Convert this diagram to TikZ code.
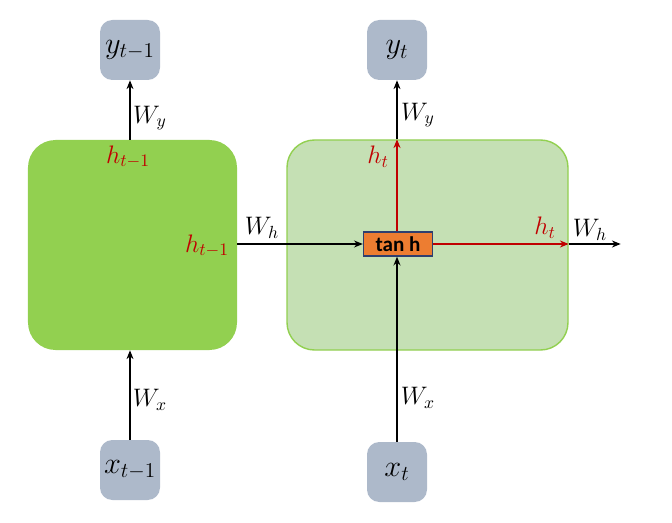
\documentclass[tikz,border=0pt]{standalone}
\usepackage{fontspec}
\newfontfamily\calibfont{Carlito}
\usetikzlibrary{arrows.meta, positioning, calc}
\definecolor{rnnDark}{HTML}{92D050}
\definecolor{rnnLight}{HTML}{C5E0B4}
\definecolor{rnnGrey}{HTML}{ADB9CA}
\definecolor{rnnOrange}{HTML}{ED7D31}
\definecolor{rnnNavy}{HTML}{2F3F6F}
\definecolor{rnnRed}{HTML}{C00000}

\begin{document}
\begin{tikzpicture}[
    cell/.style={rectangle, rounded corners=0.55cm, minimum width=4.18cm,
                 minimum height=4.2cm, inner sep=0pt},
    io/.style={rectangle, rounded corners=7pt, fill=rnnGrey, draw=none,
               minimum size=1.2cm, inner sep=0pt, font=\LARGE},
    gate/.style={rectangle, fill=rnnOrange, draw=rnnNavy, line width=0.8pt,
                 minimum width=1.38cm, minimum height=0.48cm, inner sep=0pt,
                 font=\calibfont\bfseries\large},
    wire/.style={line width=0.7pt, -{Stealth[length=5pt, width=4pt]}},
    redwire/.style={wire, draw=rnnRed},
    lbl/.style={font=\Large, inner sep=1pt},
    redlbl/.style={lbl, text=rnnRed},
  ]
    \useasboundingbox (0,0) rectangle (13.44,10.44);

    % cells
    \node[cell, fill=rnnDark] (prev) at (2.65,5.54) {};
    \node[cell, fill=rnnLight, draw=rnnDark, line width=0.8pt,
          minimum width=5.62cm] (curr) at (8.55,5.54) {};
    \node[gate] (tanh) at (7.96,5.56) {tan h};

    % inputs and outputs
    \node[io] (yprev) at (2.6,9.44) {$y_{t-1}$};
    \node[io] (ycurr) at (7.94,9.44) {$y_t$};
    \node[io] (xprev) at (2.6,1.04) {$x_{t-1}$};
    \node[io] (xcurr) at (7.94,1.0) {$x_t$};

    \coordinate (htop) at (ycurr.south |- curr.north);
    \coordinate (hright) at (tanh.east -| curr.east);
    \coordinate (hout) at ($(hright)+(1.04,0)$);

    % connectors
    \draw[wire] (xprev.north) -- (xprev.north |- prev.south);
    \draw[wire] (yprev.south |- prev.north) -- (yprev.south);
    \draw[wire] (tanh.west -| prev.east) -- (tanh.west);
    \draw[wire] (xcurr.north) -- (xcurr.north |- tanh.south);
    \draw[redwire] (ycurr.south |- tanh.north) -- (htop);
    \draw[wire] (htop) -- (ycurr.south);
    \draw[redwire] (tanh.east) -- (hright);
    \draw[wire] (hright) -- (hout);

    % labels
    \node[redlbl] (hprevtop) at (2.56,7.3) {$h_{t-1}$};
    \node[redlbl] (hprevside) at (4.14,5.52) {$h_{t-1}$};
    \node[lbl] (whprev) at (5.24,5.88) {$W_h$};
    \node[lbl] (wyprev) at (3.0,8.08) {$W_y$};
    \node[lbl] (wxprev) at (3.0,2.44) {$W_x$};
    \node[redlbl] (htop-l) at (7.56,7.3) {$h_t$};
    \node[lbl] (wycurr) at (8.36,8.14) {$W_y$};
    \node[redlbl] (hright-l) at (10.9,5.88) {$h_t$};
    \node[lbl] (whcurr) at (11.8,5.84) {$W_h$};
    \node[lbl] (wxcurr) at (8.36,2.48) {$W_x$};
  \end{tikzpicture}
\end{document}
